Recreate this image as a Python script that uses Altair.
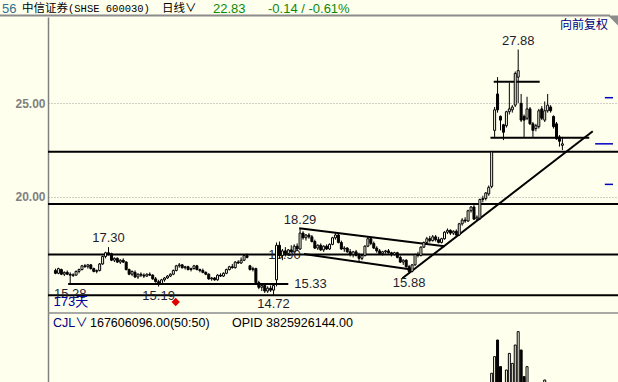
import altair as alt
import pandas as pd

BG = "#FFFFEE"
LABEL = "#1e1e30"

# ---- daily candles (173 days) ----
opens = [16.05, 15.90, 16.10, 15.85, 15.95, 15.85, 15.78, 15.80, 16.00, 16.10,
         16.30, 16.25, 16.35, 16.15, 16.00, 16.05, 16.40, 16.80, 17.00, 16.95,
         16.60, 16.70, 16.50, 16.60, 16.50, 16.10, 15.85, 15.95, 15.70, 15.85,
         15.80, 15.75, 15.85, 15.80, 15.60, 15.45, 15.35, 15.55, 15.65, 15.75,
         15.85, 16.05, 16.30, 16.35, 16.20, 16.25, 16.10, 16.15, 16.30, 16.10,
         16.05, 15.95, 15.85, 15.60, 15.65, 15.55, 15.80, 15.75, 15.90, 16.10,
         16.25, 16.20, 16.50, 16.45, 16.60, 16.85, 16.30, 16.10, 16.15, 15.40,
         15.15, 15.25, 14.95, 15.10, 15.00, 15.55, 17.40, 16.85, 17.10, 16.95,
         17.15, 17.05, 17.35, 17.20, 18.05, 17.80, 17.95, 17.85, 17.60, 17.25,
         17.40, 17.15, 17.35, 17.20, 17.45, 17.80, 17.95, 17.55, 17.20, 17.25,
         17.05, 16.90, 17.05, 16.85, 16.70, 16.85, 17.35, 17.75, 17.50, 17.25,
         17.10, 16.95, 17.05, 17.10, 17.00, 16.90, 17.00, 16.75, 16.50, 16.60,
         16.25, 16.00, 16.35, 16.90, 16.85, 17.30, 17.55, 17.75, 17.65, 17.85,
         17.70, 17.55, 17.75, 18.10, 18.20, 18.05, 18.15, 17.95, 18.55, 18.75,
         18.70, 19.25, 19.45, 18.80, 18.85, 19.85, 19.90, 20.15, 20.55, 23.55,
         25.50, 24.30, 23.85, 23.80, 24.55, 24.65, 24.90, 26.40, 25.00, 24.30,
         24.20, 24.70, 23.90, 23.65, 23.75, 24.70, 24.10, 24.60, 24.80, 24.30,
         23.90, 23.20, 22.75]
highs = [16.15, 16.20, 16.15, 16.00, 16.05, 15.95, 15.90, 16.05, 16.15, 16.35,
         16.40, 16.40, 16.40, 16.20, 16.10, 16.45, 16.85, 17.05, 17.30, 17.00,
         16.75, 16.75, 16.65, 16.70, 16.55, 16.15, 16.05, 16.05, 15.90, 15.95,
         15.90, 15.90, 15.95, 15.85, 15.70, 15.55, 15.60, 15.70, 15.80, 15.90,
         16.10, 16.35, 16.45, 16.40, 16.30, 16.30, 16.20, 16.35, 16.35, 16.15,
         16.15, 16.00, 15.90, 15.70, 15.70, 15.85, 15.90, 15.95, 16.15, 16.30,
         16.40, 16.55, 16.60, 16.75, 16.90, 16.95, 16.35, 16.25, 16.20, 15.50,
         15.30, 15.35, 15.20, 15.25, 15.30, 17.55, 17.60, 17.20, 17.30, 17.20,
         17.40, 17.45, 17.50, 18.29, 18.15, 18.00, 18.05, 17.95, 17.70, 17.45,
         17.50, 17.40, 17.45, 17.50, 17.85, 18.05, 18.00, 17.65, 17.35, 17.30,
         17.20, 17.10, 17.15, 17.00, 16.90, 17.40, 17.85, 17.80, 17.60, 17.35,
         17.20, 17.10, 17.15, 17.20, 17.05, 17.05, 17.05, 16.85, 16.65, 16.65,
         16.35, 16.40, 16.95, 17.05, 17.35, 17.60, 17.85, 17.90, 17.95, 17.95,
         17.85, 17.80, 18.15, 18.30, 18.25, 18.20, 18.25, 18.60, 18.85, 18.90,
         19.30, 19.50, 19.55, 19.00, 19.90, 20.05, 20.25, 20.60, 22.45, 24.80,
         26.40, 24.35, 23.90, 24.60, 26.10, 24.90, 26.70, 27.88, 25.50, 24.40,
         25.35, 24.80, 24.00, 23.90, 24.70, 24.85, 25.10, 25.50, 24.90, 24.35,
         24.00, 23.30, 23.20]
lows = [15.85, 15.85, 15.80, 15.75, 15.80, 15.28, 15.70, 15.78, 15.90, 16.05,
        16.20, 16.15, 16.10, 15.95, 15.90, 16.00, 16.35, 16.70, 16.85, 16.55,
        16.50, 16.45, 16.40, 16.45, 16.05, 15.80, 15.75, 15.65, 15.60, 15.70,
        15.65, 15.70, 15.75, 15.55, 15.40, 15.19, 15.30, 15.45, 15.60, 15.70,
        15.80, 16.00, 16.20, 16.15, 16.10, 16.05, 16.00, 16.10, 16.05, 15.95,
        15.90, 15.80, 15.55, 15.50, 15.50, 15.50, 15.70, 15.70, 15.85, 16.05,
        16.15, 16.15, 16.40, 16.40, 16.55, 16.70, 16.05, 16.00, 15.30, 15.05,
        14.95, 14.85, 14.85, 14.90, 14.72, 15.20, 16.70, 16.60, 16.80, 16.85,
        17.00, 17.00, 17.10, 17.15, 17.70, 17.65, 17.75, 17.55, 17.20, 17.15,
        17.10, 17.05, 17.15, 17.15, 17.40, 17.70, 17.50, 17.15, 17.05, 17.00,
        16.80, 16.75, 16.80, 16.55, 16.60, 16.80, 17.30, 17.40, 17.20, 17.00,
        16.90, 16.85, 16.95, 16.95, 16.80, 16.85, 16.70, 16.45, 16.35, 16.20,
        15.88, 15.95, 16.30, 16.75, 16.80, 17.25, 17.45, 17.55, 17.60, 17.60,
        17.50, 17.50, 17.70, 18.00, 17.95, 17.95, 17.90, 17.90, 18.45, 18.60,
        18.65, 19.15, 18.75, 18.70, 18.75, 19.70, 19.80, 20.05, 20.45, 23.20,
        24.50, 23.55, 23.03, 23.70, 24.40, 24.50, 24.80, 25.00, 24.00, 23.20,
        24.10, 23.85, 23.20, 23.50, 23.65, 24.10, 24.00, 24.50, 24.50, 23.65,
        23.05, 22.68, 22.50]
closes = [15.90, 16.15, 15.85, 15.95, 15.85, 15.80, 15.82, 16.00, 16.10, 16.30,
          16.25, 16.35, 16.15, 16.00, 16.05, 16.40, 16.80, 17.00, 16.95, 16.60,
          16.70, 16.50, 16.60, 16.50, 16.10, 15.85, 16.00, 15.70, 15.85, 15.80,
          15.75, 15.85, 15.80, 15.60, 15.45, 15.35, 15.55, 15.65, 15.75, 15.85,
          16.05, 16.30, 16.35, 16.20, 16.25, 16.10, 16.15, 16.30, 16.10, 16.05,
          15.95, 15.85, 15.60, 15.65, 15.55, 15.80, 15.75, 15.90, 16.10, 16.25,
          16.20, 16.50, 16.45, 16.60, 16.85, 16.75, 16.10, 16.15, 15.40, 15.15,
          15.25, 14.95, 15.10, 15.00, 15.25, 17.40, 16.85, 17.10, 16.95, 17.15,
          17.05, 17.35, 17.20, 18.05, 17.80, 17.95, 17.85, 17.60, 17.25, 17.40,
          17.15, 17.35, 17.20, 17.45, 17.80, 17.95, 17.55, 17.20, 17.25, 17.05,
          16.90, 17.05, 16.85, 16.70, 16.85, 17.35, 17.75, 17.50, 17.25, 17.10,
          16.95, 17.05, 17.10, 17.00, 16.90, 17.00, 16.75, 16.50, 16.60, 16.25,
          16.00, 16.35, 16.90, 16.85, 17.30, 17.55, 17.75, 17.65, 17.85, 17.70,
          17.55, 17.75, 18.10, 18.20, 18.05, 18.15, 17.95, 18.55, 18.75, 18.70,
          19.25, 19.45, 18.80, 18.90, 19.85, 19.90, 20.20, 20.50, 22.40, 24.65,
          24.65, 24.10, 23.45, 24.55, 24.70, 24.80, 26.60, 26.75, 24.10, 24.10,
          24.70, 23.90, 23.55, 23.80, 24.60, 24.20, 24.60, 24.90, 24.60, 23.75,
          23.10, 22.97, 22.83]
volumes = [180, 165, 150, 172, 160, 190, 155, 148, 170, 210,
           195, 176, 160, 150, 158, 230, 310, 350, 290, 240,
           200, 185, 176, 170, 220, 260, 210, 190, 175, 168,
           160, 172, 165, 190, 240, 260, 230, 200, 185, 190,
           215, 260, 240, 200, 185, 178, 170, 195, 180, 160,
           150, 155, 210, 230, 190, 185, 170, 178, 200, 215,
           210, 245, 230, 250, 290, 260, 300, 240, 360, 330,
           300, 320, 350, 310, 290, 520, 480, 380, 350, 330,
           300, 340, 310, 470, 420, 360, 330, 320, 350, 300,
           280, 290, 270, 300, 340, 380, 350, 320, 290, 270,
           260, 250, 240, 260, 250, 330, 360, 320, 290, 270,
           250, 240, 230, 220, 215, 210, 230, 260, 240, 270,
           300, 320, 380, 340, 360, 400, 420, 380, 360, 340,
           330, 350, 420, 440, 380, 360, 370, 450, 480, 460,
           520, 540, 560, 480, 580, 560, 590, 610, 694, 827,
           960, 747, 560, 720, 853, 773, 920, 1027, 880, 667,
           747, 600, 580, 520, 590, 560, 640, 610, 520, 480,
           560, 520, 168]

# ---- drawn annotations (price units / day index) ----
hline_prices = [22.41, 19.61, 16.90, 14.72]
seg_from = [4.3, 148.7, 147.6]
seg_to = [79.0, 164.3, 181.1]
seg_price = [15.33, 26.16, 23.16]
trend_i1 = [117.7, 82.7, 84.3]
trend_p1 = [15.63, 18.31, 16.93]
trend_i2 = [182.3, 132.0, 120.7]
trend_p2 = [23.50, 17.35, 16.10]
marker_from = [186.4, 183.1, 186.4]
marker_price = [25.30, 22.83, 20.66]
high_days = [18, 83, 157]
low_days = [5, 35, 74, 120]

n = len(closes)
candles = pd.DataFrame({"i": list(range(n)), "open": opens, "high": highs,
                        "low": lows, "close": closes, "vol": volumes})
candles["dir"] = ["up" if c > o else "down" for o, c in zip(opens, closes)]

xs = alt.Scale(domain=[-0.8333, 189.1667], nice=False, zero=False)
ys = alt.Scale(domain=[10.080, 29.620], nice=False, zero=False)
vs = alt.Scale(domain=[624, 3544], nice=False, zero=False)
fill_scale = alt.Scale(domain=["up", "down"], range=[BG, "#000000"])


def X(f):
    return alt.X(f, type="quantitative", scale=xs, axis=None)


def Y(f):
    return alt.Y(f, type="quantitative", scale=ys, axis=None)


yaxis = alt.Axis(values=[20, 25], format=".2f", grid=True, gridDash=[1, 2],
                 gridColor="#a0a0a0", gridWidth=1, ticks=False, domain=True,
                 domainColor="#808080", domainWidth=1.5, labelColor="#808080",
                 labelFont="Liberation Sans", labelFontSize=12,
                 labelFontWeight="bold", labelPadding=3, title=None)

hl = alt.Chart(pd.DataFrame({"p": hline_prices})).mark_rule(
    color="black", strokeWidth=2).encode(
    y=alt.Y("p:Q", scale=ys, axis=yaxis))

segs = alt.Chart(pd.DataFrame({"a": seg_from, "b": seg_to, "p": seg_price})).mark_rule(
    color="black", strokeWidth=2).encode(x=X("a"), x2="b:Q", y=Y("p"))

trends = alt.Chart(pd.DataFrame({"a": trend_i1, "pa": trend_p1,
                                 "b": trend_i2, "pb": trend_p2})).mark_rule(
    color="black", strokeWidth=2).encode(x=X("a"), y=Y("pa"), x2="b:Q", y2="pb:Q")

markers = alt.Chart(pd.DataFrame({"a": marker_from, "p": marker_price})).mark_rule(
    color="#0000c0", strokeWidth=1.5).encode(x=X("a"), x2=alt.datum(189.1667), y=Y("p"))

line_lab = alt.Chart(pd.DataFrame({"a": [seg_to[0]], "p": [seg_price[0]],
                                   "t": [f"{seg_price[0]:.2f}"]})).mark_text(
    align="left", baseline="middle", dx=6, font="Liberation Sans", fontSize=13,
    color=LABEL).encode(x=X("a"), y=Y("p"), text="t:N")

hid_lab = alt.Chart(pd.DataFrame({"a": [77.7], "p": [hline_prices[2]],
                                  "t": [f"{hline_prices[2]:.2f}"]})).mark_text(
    align="center", baseline="middle", font="Liberation Sans", fontSize=13,
    color=LABEL).encode(x=X("a"), y=Y("p"), text="t:N")

wicks = alt.Chart(candles).mark_rule(color="black", strokeWidth=1).encode(
    x=X("i"), y=Y("low"), y2="high:Q")

bodies = alt.Chart(candles).mark_bar(size=2, stroke="black", strokeWidth=1).encode(
    x=X("i"), y=Y("open"), y2="close:Q",
    fill=alt.Fill("dir:N", scale=fill_scale, legend=None))

vol = alt.Chart(candles).mark_bar(size=2, stroke="black", strokeWidth=1, clip=True).encode(
    x=X("i"), y=alt.Y("vol:Q", scale=vs, axis=None), y2=alt.datum(0),
    fill=alt.Fill("dir:N", scale=fill_scale, legend=None))

hi_df = pd.DataFrame({"i": high_days, "p": [highs[k] for k in high_days],
                      "t": [f"{highs[k]:.2f}" for k in high_days]})
lo_df = pd.DataFrame({"i": low_days, "p": [lows[k] for k in low_days],
                      "t": [f"{lows[k]:.2f}" for k in low_days]})
hi_lab = alt.Chart(hi_df).mark_text(dy=-9, baseline="middle", font="Liberation Sans",
                                    fontSize=13, color=LABEL).encode(
    x=X("i"), y=Y("p"), text="t:N")
lo_lab = alt.Chart(lo_df).mark_text(dy=9, baseline="middle", font="Liberation Sans",
                                    fontSize=13, color=LABEL).encode(
    x=X("i"), y=Y("p"), text="t:N")

days_lab = alt.Chart(pd.DataFrame({"a": [0], "p": [14.34], "t": [f"{n}天"]})).mark_text(
    align="left", baseline="middle", dx=-2, font="Liberation Sans, Noto Sans CJK SC",
    fontSize=13, color="#0000a0").encode(x=X("a"), y=Y("p"), text="t:N")

diamond = alt.Chart(pd.DataFrame({"a": [40.8], "p": [14.36]})).mark_point(
    shape="diamond", filled=True, color="#e00000", size=70, opacity=1).encode(
    x=X("a"), y=Y("p"))


def txt(s, x, y, color="#000000", size=13, font="Liberation Sans, Noto Sans CJK SC",
        align="left"):
    return alt.Chart(pd.DataFrame({"t": [s]})).mark_text(
        align=align, baseline="middle", font=font, fontSize=size, color=color).encode(
        x=alt.value(x), y=alt.value(y), text="t:N")


header_line = alt.Chart(pd.DataFrame({"k": [0]})).mark_rule(
    color="#8c8c8c", strokeWidth=2).encode(
    x=alt.value(-48), x2=alt.value(562), y=alt.value(-1.5))
corner = alt.Chart(pd.DataFrame({"k": [0]})).mark_point(
    shape="M -1 -1 L 1 -1 L 1 1 Z", filled=True, color="#8c8c8c", size=100,
    opacity=1).encode(x=alt.value(565), y=alt.value(3.5))
sep_line = alt.Chart(pd.DataFrame({"k": [0]})).mark_rule(
    color="#8c8c8c", strokeWidth=1.5).encode(
    x=alt.value(0), x2=alt.value(570), y=alt.value(296))

texts = [
    txt("56", -46, -8, color="#2f7090"),
    txt("中信证券", -26, -8, size=11.5, font="Noto Sans CJK SC"),
    txt("(SHSE 600030)", 20, -8, size=10.5, font="Liberation Mono"),
    txt("日线∨", 114, -8, size=11.5, font="Noto Sans CJK SC"),
    txt("22.83", 165, -8, color="#0a8a0a"),
    txt("-0.14 / -0.61%", 220, -8, color="#0a8a0a"),
    txt("向前复权", 560, 8, color="#00007f", size=12, font="Noto Sans CJK SC",
        align="right"),
    txt("CJL∨", 5, 306, color="#000080", size=12.5),
    txt("167606096.00(50:50)", 42, 306, size=12.5),
    txt("OPID 3825926144.00", 184, 306, size=12.5),
]

chart = alt.layer(
    hl, segs, trends, markers, hid_lab, line_lab,
    wicks, bodies, vol, hi_lab, lo_lab, days_lab, diamond,
    header_line, corner, sep_line, *texts
).resolve_scale(y="independent").properties(
    width=570, height=365,
    padding={"left": 48, "top": 17, "right": 0, "bottom": 0},
    autosize=alt.AutoSizeParams(type="none"),
    background=BG,
).configure_view(stroke=None)

chart.save("out.html", embed_options={"renderer": "svg", "actions": False})
